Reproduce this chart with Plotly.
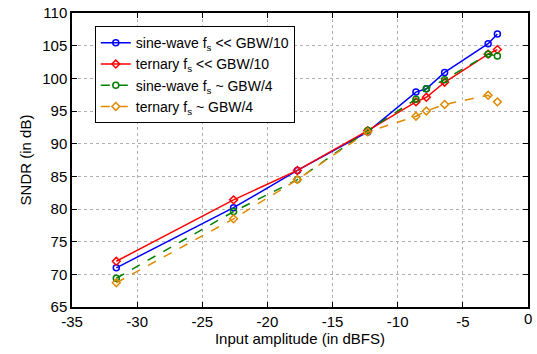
import plotly.graph_objects as go

x_vals = [-31.6, -22.6, -17.7, -12.3, -8.6, -7.8, -6.4, -3.06, -2.35]
sine_fast = [71.0, 80.2, 85.9, 91.8, 97.9, 98.4, 100.9, 105.3, 106.8]
tern_fast = [72.0, 81.4, 85.9, 92.0, 96.4, 97.1, 99.4, 103.7, 104.4]
sine_gbw4 = [69.4, 79.6, 84.5, 92.0, 96.8, 98.4, 99.8, 103.7, 103.4]
tern_gbw4 = [68.7, 78.5, 84.5, 91.8, 94.2, 95.0, 96.0, 97.4, 96.4]
x_ticks = [-35, -30, -25, -20, -15, -10, -5, 0]

names = ["sine-wave f<sub>s</sub> << GBW/10", "ternary f<sub>s</sub> << GBW/10",
         "sine-wave f<sub>s</sub> ~ GBW/4", "ternary f<sub>s</sub> ~ GBW/4"]
colors = ["#0000ff", "#ff0000", "#008000", "#e08a00"]
symbols = ["circle-open", "diamond-open", "circle-open", "diamond-open"]
dashes = ["solid", "solid", "dash", "dash"]
series = [sine_fast, tern_fast, sine_gbw4, tern_gbw4]

FONT = "Arial, Liberation Sans, sans-serif"

fig = go.Figure()
for n, c, s, d, y in zip(names, colors, symbols, dashes, series):
    fig.add_trace(go.Scatter(x=x_vals, y=y, name=n, mode="lines+markers",
                             line=dict(color=c, width=1.5, dash=d),
                             marker=dict(symbol=s, size=6, color=c, line=dict(width=1.5, color=c))))

axis_common = dict(showline=True, linecolor="black", linewidth=1.5, mirror="ticks",
                   ticks="inside", ticklen=5, tickcolor="black",
                   showgrid=True, gridcolor="#b0b0b0", griddash="dot", gridwidth=1,
                   zeroline=False, automargin=False,
                   tickfont=dict(family=FONT, size=15, color="black"))
# the last tick label (0) is hidden by plotly at the page edge, so draw it
# as an annotation anchored to the x-axis value of the last tick
shown_ticks = x_ticks[:-1]
fig.update_xaxes(range=[-35, 0], tickmode="array", tickvals=shown_ticks,
                 ticktext=[str(v) for v in shown_ticks],
                 title=dict(text="Input amplitude (in dBFS)", font=dict(family=FONT, size=15), standoff=3),
                 **axis_common)
fig.update_yaxes(range=[65, 110], dtick=5,
                 title=dict(text="SNDR (in dB)", font=dict(family=FONT, size=15), standoff=7),
                 **axis_common)
fig.add_annotation(x=x_ticks[-1], xref="x", y=0, yref="paper", text=str(x_ticks[-1]),
                   showarrow=False, xanchor="center", yanchor="top", yshift=-1,
                   font=dict(family=FONT, size=15, color="black"))

fig.update_layout(
    width=537, height=354,
    margin=dict(l=72, r=9, t=13, b=47),
    plot_bgcolor="white", paper_bgcolor="white",
    font=dict(family=FONT, size=15, color="black"),
    legend=dict(x=0.05, y=0.955, xanchor="left", yanchor="top",
                bordercolor="black", borderwidth=1, bgcolor="white",
                font=dict(family=FONT, size=14), tracegroupgap=0, itemwidth=30),
    showlegend=True,
)
fig.write_html("out.html", config={"displayModeBar": False},
               post_script="document.body.style.margin='0';")
